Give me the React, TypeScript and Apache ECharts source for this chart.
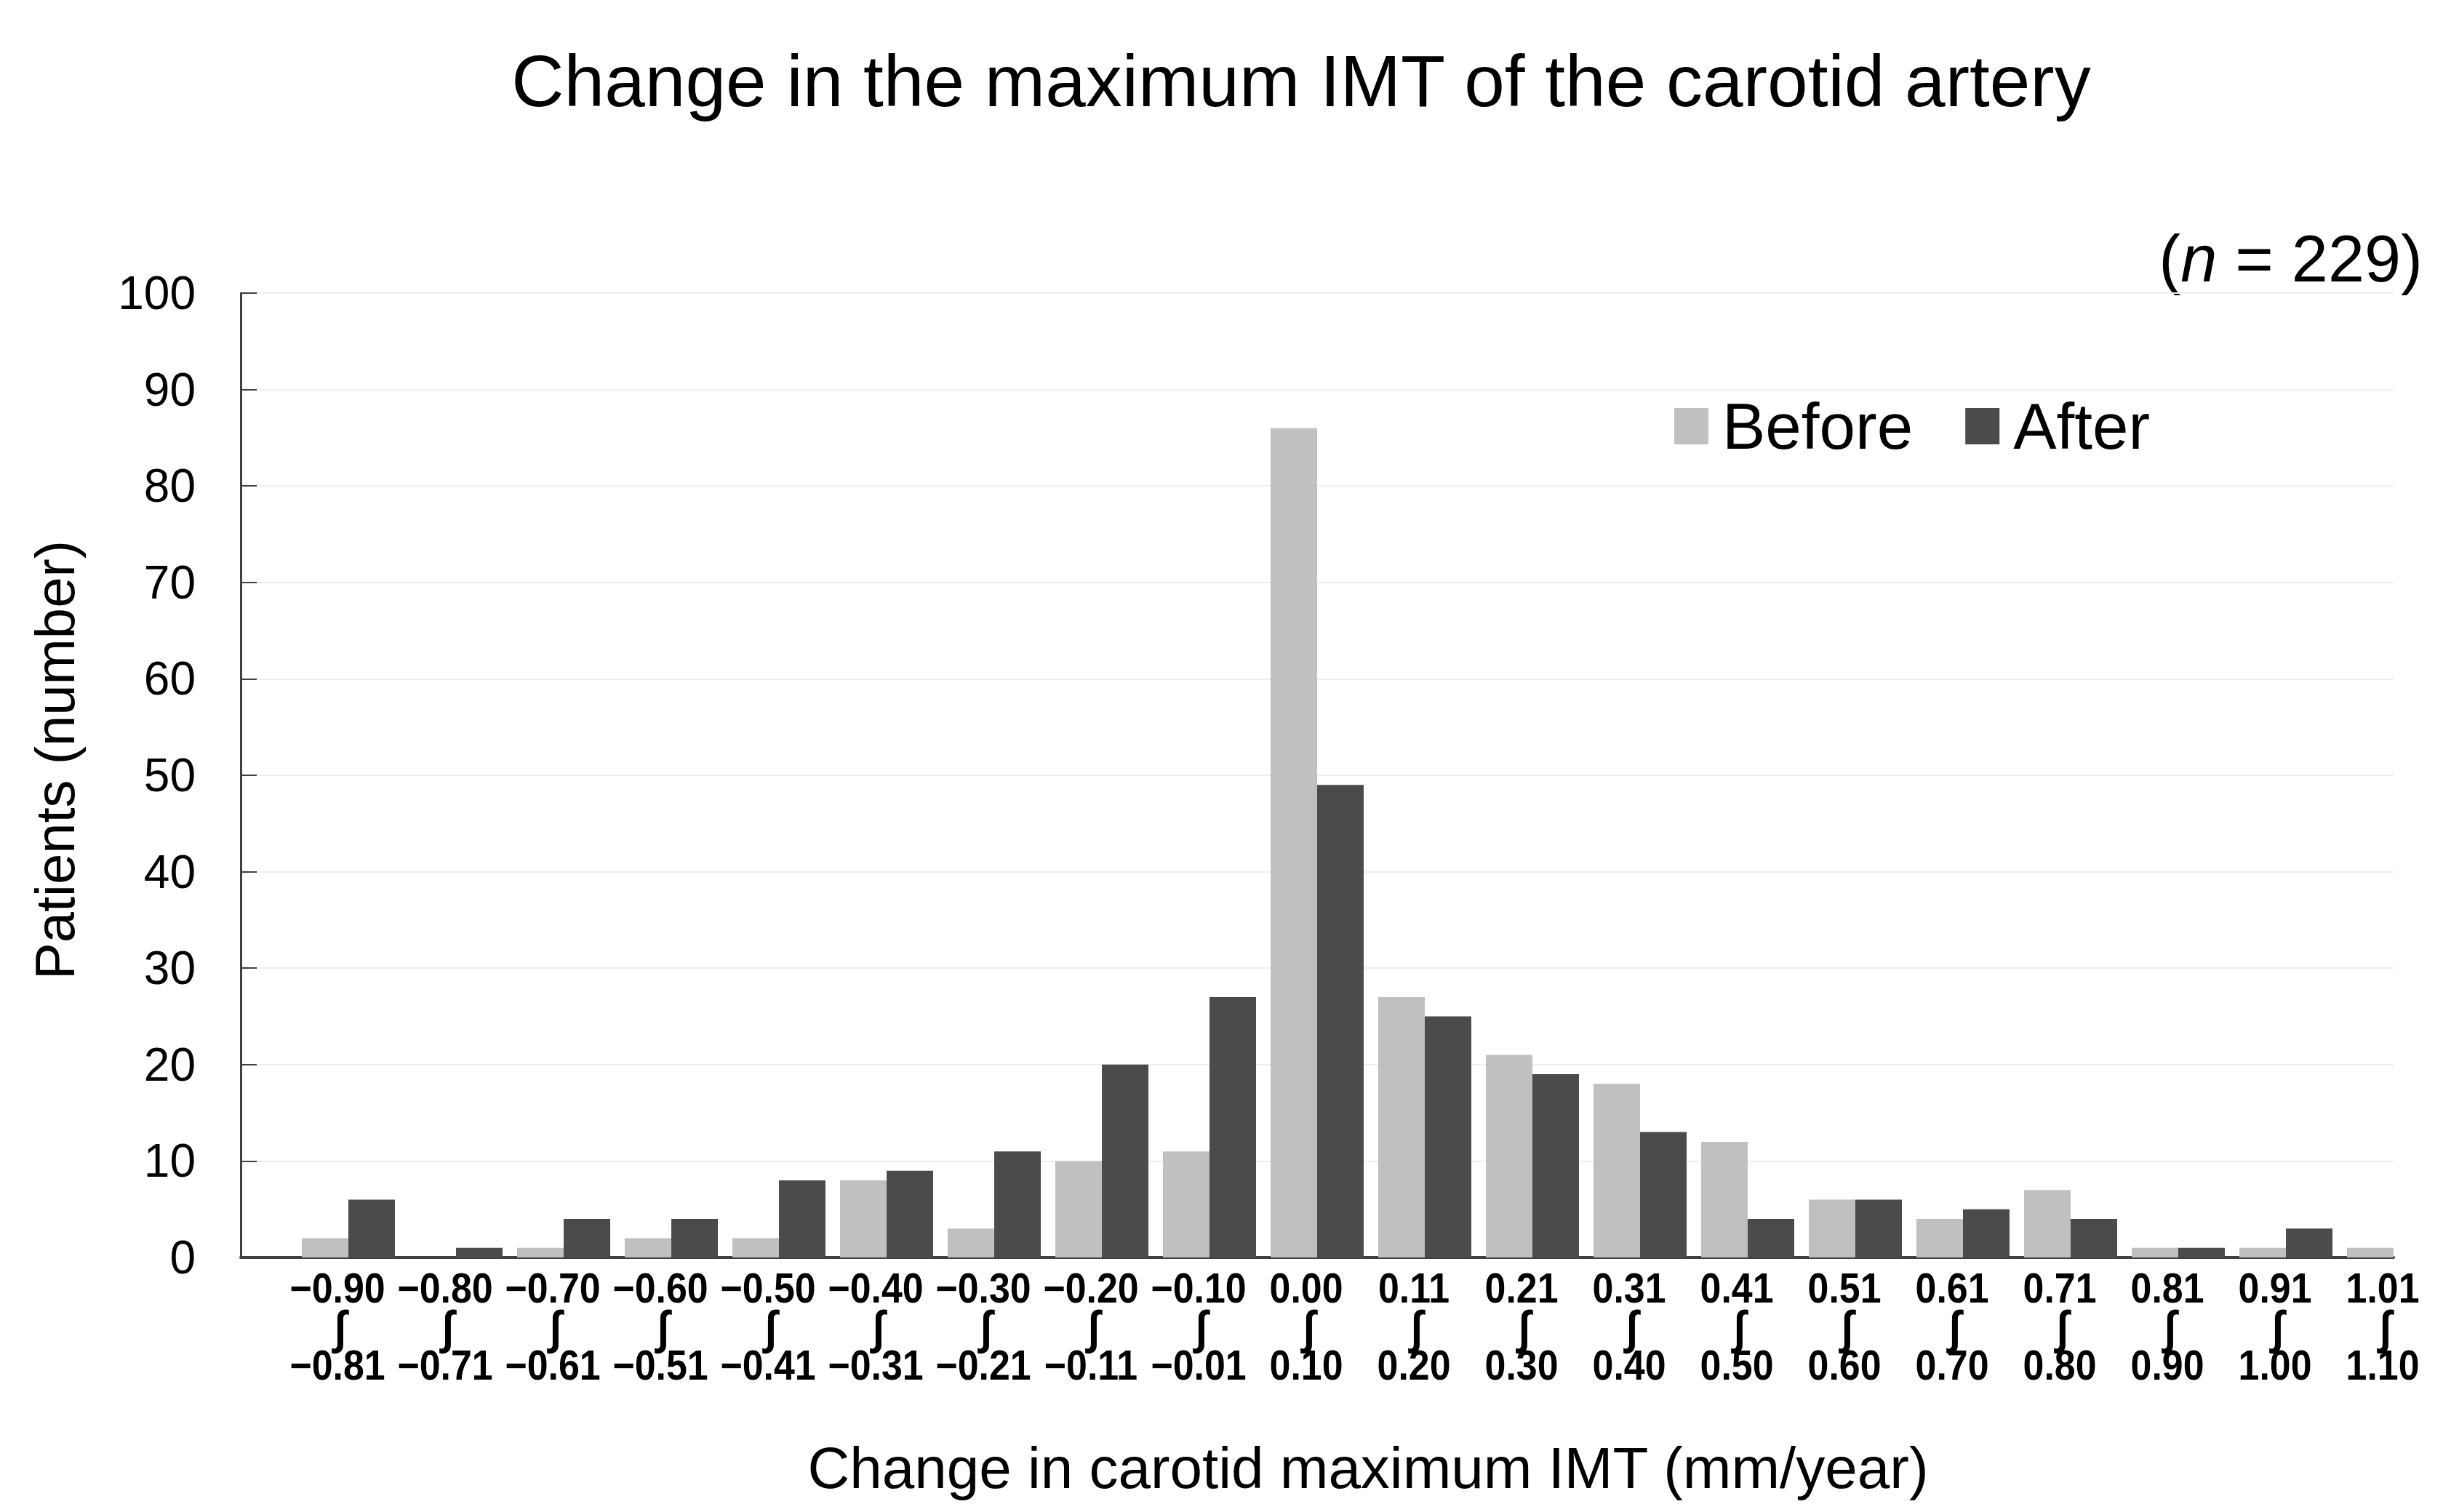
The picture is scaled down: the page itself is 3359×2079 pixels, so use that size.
import React, { useEffect, useRef } from "react";
import * as echarts from "echarts";

const lowerBounds = ["−0.90", "−0.80", "−0.70", "−0.60", "−0.50", "−0.40", "−0.30", "−0.20", "−0.10", "0.00", "0.11", "0.21", "0.31", "0.41", "0.51", "0.61", "0.71", "0.81", "0.91", "1.01"];
const upperBounds = ["−0.81", "−0.71", "−0.61", "−0.51", "−0.41", "−0.31", "−0.21", "−0.11", "−0.01", "0.10", "0.20", "0.30", "0.40", "0.50", "0.60", "0.70", "0.80", "0.90", "1.00", "1.10"];
const beforeValues = [2, 0, 1, 2, 2, 8, 3, 10, 11, 86, 27, 21, 18, 12, 6, 4, 7, 1, 1, 1];
const afterValues = [6, 1, 4, 4, 8, 9, 11, 20, 27, 49, 25, 19, 13, 4, 6, 5, 4, 1, 3, 0];
const seriesNames = ["Before", "After"];
const yMin = 0;
const yMax = 100;
const yInterval = 10;

const titleText = "Change in the maximum IMT of the carotid artery";
const xTitle = "Change in carotid maximum IMT (mm/year)";
const yTitle = "Patients (number)";

const SANS = '"Liberation Sans", Arial, sans-serif';

export default function App() {
  const ref = useRef<HTMLDivElement>(null);
  useEffect(() => {
    const chart = echarts.init(ref.current!, null, { renderer: "svg" });
    // leading empty slot so that bar pairs sit on band boundaries (as in the original)
    const categories = ["", ...lowerBounds.map((l, i) => `${l} – ${upperBounds[i]}`)];
    const labelText = (text: string, x: number, y: number, size: number) => ({
      type: "text",
      x,
      y,
      scaleX: 0.91,
      style: {
        text,
        fontSize: size,
        fontWeight: "bold",
        fontFamily: SANS,
        fill: "#000",
        align: "center",
        verticalAlign: "middle",
      },
    });
    const option = {
      animation: false,
      backgroundColor: "#ffffff",
      grid: { left: 331, right: 68, top: 403, bottom: 350, containLabel: false },
      legend: {
        data: seriesNames,
        left: 2297,
        top: 535,
        icon: "rect",
        itemWidth: 47,
        itemHeight: 50,
        itemGap: 72,
        textStyle: { fontSize: 89, fontFamily: SANS, color: "#000", lineHeight: 92, padding: [0, 0, 0, 14] },
      },
      xAxis: {
        type: "category",
        data: categories,
        boundaryGap: false,
        axisLine: { show: true, lineStyle: { color: "#404040", width: 4 } },
        axisTick: { show: false },
        splitLine: { show: false },
        axisLabel: { show: false },
      },
      yAxis: {
        type: "value",
        min: yMin,
        max: yMax,
        interval: yInterval,
        axisLine: { show: true, lineStyle: { color: "#404040", width: 3 } },
        axisTick: { show: true, inside: true, length: 22, lineStyle: { color: "#404040", width: 2 } },
        splitLine: { show: true, lineStyle: { color: "#eeeeee", width: 2 } },
        axisLabel: { fontFamily: SANS, fontSize: 64, color: "#000", margin: 62 },
      },
      series: [
        {
          name: seriesNames[0],
          type: "bar",
          data: [null, ...beforeValues],
          barWidth: 64,
          barGap: "0%",
          itemStyle: { color: "#c0c0c0" },
        },
        {
          name: seriesNames[1],
          type: "bar",
          data: [null, ...afterValues],
          barWidth: 64,
          barGap: "0%",
          itemStyle: { color: "#4b4b4b" },
        },
        {
          name: "categoryLabels",
          type: "custom",
          silent: true,
          clip: false,
          z: 10,
          encode: { x: 0, y: 1 },
          data: lowerBounds.map((_, i) => [i + 1, 0]),
          renderItem: (params: any, api: any) => {
            const i = params.dataIndex;
            const pt = api.coord([api.value(0), 0]);
            const x = pt[0] - 15;
            const y0 = pt[1];
            return {
              type: "group",
              children: [
                labelText(lowerBounds[i], x, y0 + 43, 57),
                labelText("∫", x + 4, y0 + 96, 64),
                labelText(upperBounds[i], x, y0 + 149, 57),
              ],
            };
          },
        },
      ],
      graphic: [
        {
          type: "text",
          x: 1789,
          y: 111,
          style: { text: titleText, fontSize: 100, fontFamily: SANS, fill: "#000", align: "center", verticalAlign: "middle" },
        },
        {
          type: "text",
          x: 3331,
          y: 356,
          style: {
            text: "{a|(}{i|n}{a| = 229)}",
            align: "right",
            verticalAlign: "middle",
            rich: {
              a: { fontSize: 90, fontFamily: SANS, fill: "#000" },
              i: { fontSize: 90, fontFamily: SANS, fontStyle: "italic", fill: "#000" },
            },
          },
        },
        {
          type: "text",
          x: 1881,
          y: 2018,
          style: { text: xTitle, fontSize: 80, fontFamily: SANS, fill: "#000", align: "center", verticalAlign: "middle" },
        },
        {
          type: "text",
          x: 75,
          y: 1045,
          rotation: Math.PI / 2,
          style: { text: yTitle, fontSize: 76, fontFamily: SANS, fill: "#000", align: "center", verticalAlign: "middle" },
        },
      ],
    };
    chart.setOption(option as any);
    return () => chart.dispose();
  }, []);
  return (
    <div
      ref={ref}
      style={{ position: "absolute", left: 0, top: 0, width: 3359, height: 2079, background: "#fff" }}
    />
  );
}
